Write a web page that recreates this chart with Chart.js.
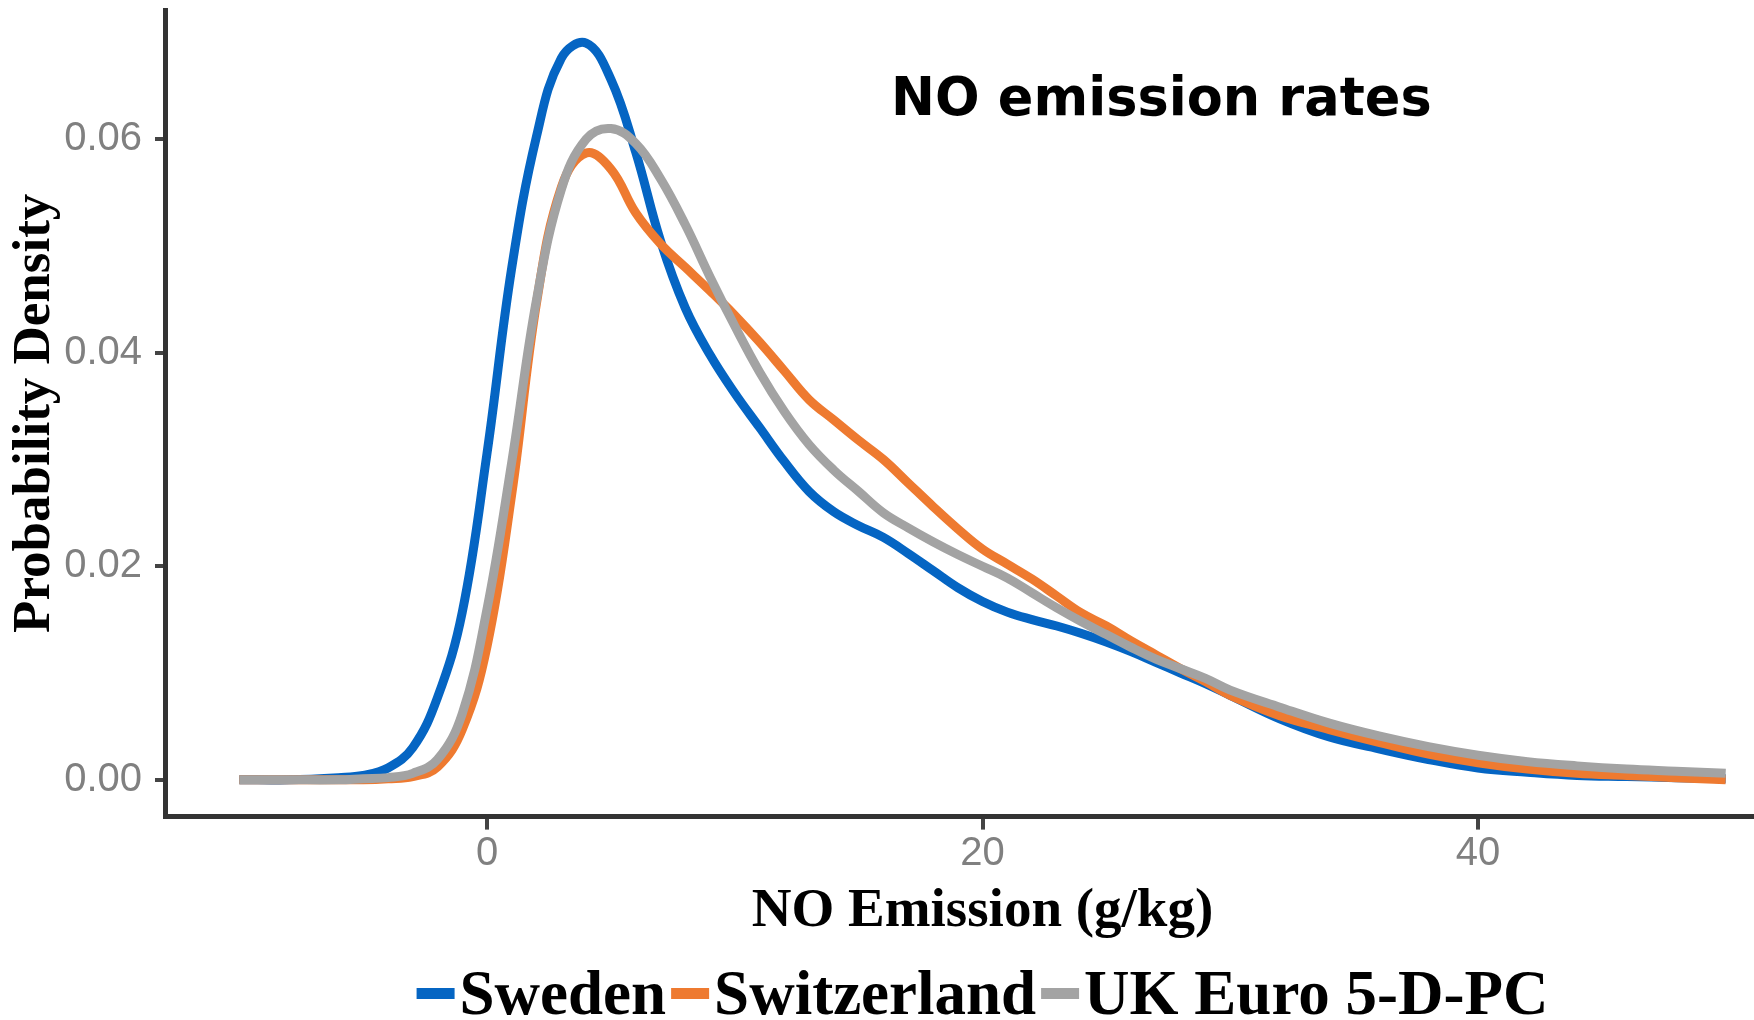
<!DOCTYPE html>
<html>
<head>
<meta charset="utf-8">
<title>NO emission rates</title>
<script src="https://cdn.jsdelivr.net/npm/chart.js@4.4.1/dist/chart.umd.min.js"></script>
<style>
  html, body { margin: 0; padding: 0; background: #fff; overflow: hidden; }
  #wrap { width: 1800px; height: 1020px; }
</style>
</head>
<body>
<div id="wrap"><canvas id="noChart" width="1800" height="1020"></canvas></div>
<script>
const emissionX = [-10, -8, -6, -5, -4, -3, -2, -1, 0, 1, 2, 3, 4, 5, 6, 7, 8, 9, 10,
  11, 12, 13, 14, 15, 16, 17, 18, 19, 20, 21, 22, 23, 24, 25, 26, 27, 28, 29, 30,
  32, 34, 36, 38, 40, 42, 44, 46, 48, 50];

const swedenDensity = [0, 0, 0.0002, 0.0004, 0.0011, 0.0030, 0.0077, 0.0157, 0.0306, 0.0480,
  0.0603, 0.0676, 0.0690, 0.0656, 0.0588, 0.0505, 0.0442, 0.0398, 0.0362,
  0.0330, 0.0298, 0.0270, 0.0251, 0.0238, 0.0227, 0.0212, 0.0196, 0.0180, 0.0167,
  0.0157, 0.0150, 0.0144, 0.0137, 0.0129, 0.0120, 0.0110, 0.0100, 0.0090, 0.0079,
  0.0057, 0.0040, 0.0029, 0.0019, 0.0011, 0.0007, 0.0004, 0.0003, 0.0002, 0.0001];

const switzerlandDensity = [0, 0, 0, 0, 0.0001, 0.0003, 0.0012, 0.0047, 0.0125, 0.0268,
  0.0447, 0.0555, 0.0587, 0.0572, 0.0531, 0.0502, 0.0480, 0.0458, 0.0435,
  0.0410, 0.0383, 0.0356, 0.0337, 0.0318, 0.0300, 0.0278, 0.0256, 0.0235, 0.0216,
  0.0202, 0.0188, 0.0172, 0.0156, 0.0144, 0.0130, 0.0117, 0.0104, 0.0092, 0.0079,
  0.0060, 0.0047, 0.0035, 0.0024, 0.0016, 0.0010, 0.0006, 0.0004, 0.0002, 0];

const ukDensity = [0, 0, 0, 0.0001, 0.0002, 0.0006, 0.0019, 0.0062, 0.0160, 0.0298,
  0.0450, 0.0553, 0.0600, 0.0610, 0.0596, 0.0563, 0.0520, 0.0471, 0.0425,
  0.0382, 0.0345, 0.0314, 0.0290, 0.0270, 0.0250, 0.0236, 0.0223, 0.0211, 0.0200,
  0.0189, 0.0175, 0.0161, 0.0148, 0.0136, 0.0124, 0.0113, 0.0104, 0.0095, 0.0084,
  0.0068, 0.0053, 0.0041, 0.0031, 0.0023, 0.0017, 0.0013, 0.0010, 0.0008, 0.0006];

const seriesNames = ["Sweden", "Switzerland", "UK Euro 5-D-PC"];
const seriesColors = ["#0565c3", "#ee7a30", "#a3a3a3"];

const xTicks = [0, 20, 40];
const yTicks = [0, 0.02, 0.04, 0.06];

const toPoints = (values) => emissionX.map((x, i) => ({ x: x, y: values[i] }));

// title sits inside the panel, legend is line swatch + text like ggplot
const panelTitle = {
  id: "panelTitle",
  afterDraw(chart) {
    const { ctx, chartArea } = chart;
    ctx.save();
    ctx.font = 'bold 52.5px "DejaVu Sans"';
    ctx.fillStyle = "#000";
    ctx.textBaseline = "alphabetic";
    ctx.fillText("NO emission rates", chartArea.left + 726, chartArea.top + 105);
    ctx.restore();
  },
};

const lineLegend = {
  id: "lineLegend",
  afterDraw(chart) {
    const { ctx, chartArea } = chart;
    const swatch = 38;
    const gap = 5;
    ctx.save();
    ctx.font = 'bold 63px "Liberation Serif"';
    ctx.textBaseline = "alphabetic";
    const items = chart.data.datasets.map((ds) => ({
      label: ds.label,
      color: ds.borderColor,
      width: ctx.measureText(ds.label).width,
    }));
    const total = items.reduce((s, it) => s + swatch + gap + it.width, 0) + gap * (items.length - 1);
    let x = (chartArea.left + chartArea.right) / 2 - total / 2;
    const baseY = chart.height - 6;
    items.forEach((it) => {
      ctx.fillStyle = it.color;
      ctx.fillRect(x, baseY - 26, swatch, 11);
      x += swatch + gap;
      ctx.fillStyle = "#000";
      ctx.fillText(it.label, x, baseY);
      x += it.width + gap;
    });
    ctx.restore();
  },
};

const densities = [swedenDensity, switzerlandDensity, ukDensity];

const ctx = document.getElementById("noChart").getContext("2d");
new Chart(ctx, {
  type: "line",
  data: {
    datasets: densities.map((values, i) => ({
      label: seriesNames[i],
      data: toPoints(values),
      borderColor: seriesColors[i],
      backgroundColor: seriesColors[i],
      borderWidth: 9,
      pointRadius: 0,
      fill: false,
      tension: 0.4,
      order: 2 - i,
    })),
  },
  options: {
    responsive: false,
    animation: false,
    layout: { padding: { top: 10, bottom: 75.6, left: 0, right: 0 } },
    plugins: {
      legend: { display: false },
      tooltip: { enabled: false },
    },
    scales: {
      x: {
        type: "linear",
        min: -13,
        max: 53,
        afterBuildTicks: (axis) => {
          axis.ticks = xTicks.map((v) => ({ value: v }));
        },
        afterFit: (scale) => {
          scale.height = 127.8;
          scale.paddingLeft = 0;
          scale.paddingRight = 0;
        },
        grid: { drawOnChartArea: false, tickLength: 13, color: "#444", lineWidth: 4 },
        border: { color: "#333", width: 5 },
        ticks: {
          padding: 0,
          color: "#808080",
          font: { family: "Liberation Sans", size: 40 },
        },
        title: {
          display: true,
          text: "NO Emission (g/kg)",
          color: "#000",
          padding: { top: 0, bottom: 0 },
          font: { family: "Liberation Serif", size: 55, weight: "bold" },
        },
      },
      y: {
        type: "linear",
        min: -0.00345,
        max: 0.0721,
        afterBuildTicks: (axis) => {
          axis.ticks = yTicks.map((v) => ({ value: v }));
        },
        afterFit: (scale) => {
          scale.width = 165;
          scale.paddingTop = 0;
          scale.paddingBottom = 0;
        },
        grid: { drawOnChartArea: false, tickLength: 10, color: "#444", lineWidth: 4 },
        border: { color: "#333", width: 5 },
        ticks: {
          padding: 13,
          color: "#808080",
          font: { family: "Liberation Sans", size: 40 },
          callback: (value) => value.toFixed(2),
        },
        title: {
          display: true,
          text: "Probability Density",
          color: "#000",
          padding: { top: 4, bottom: 0 },
          font: { family: "Liberation Serif", size: 53, weight: "bold" },
        },
      },
    },
  },
  plugins: [panelTitle, lineLegend],
});
</script>
</body>
</html>
